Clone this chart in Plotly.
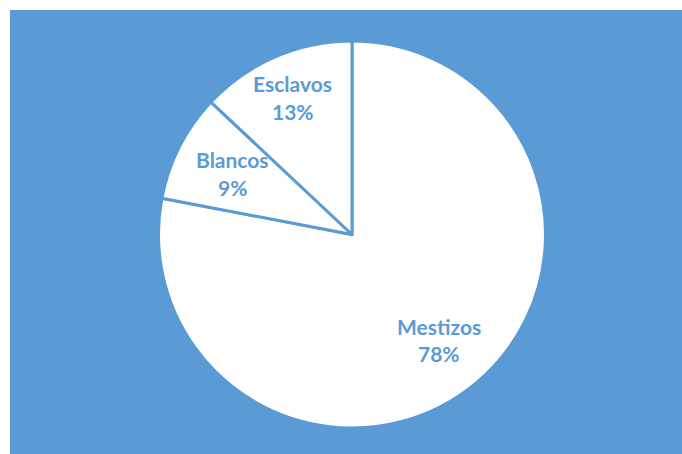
import math
import plotly.graph_objects as go

# Population composition
labels = ["Mestizos", "Blancos", "Esclavos"]
values = [78, 9, 13]

BLUE = "#5B9BD5"
W, H = 682, 454
M_L, M_T = 10, 10

# Pie geometry (pixels, within the page)
cx, cy, r = 352, 234.5, 193.5
plot_w, plot_h = W - M_L, H - M_T
dom_x = [(cx - r - M_L) / plot_w, (cx + r - M_L) / plot_w]
dom_y = [(H - cy - r) / plot_h, (H - cy + r) / plot_h]

fig = go.Figure(
    go.Pie(
        labels=labels,
        values=values,
        sort=False,
        direction="clockwise",
        rotation=0,
        textinfo="none",
        hoverinfo="label+percent",
        marker=dict(colors=["white"] * len(values), line=dict(color=BLUE, width=3)),
        showlegend=False,
        domain=dict(x=dom_x, y=dom_y),
    )
)

# Labels placed at each slice's mid-angle
total = sum(values)
radial = {"Mestizos": 0.71, "Blancos": 0.70, "Esclavos": 0.78}
annotations = []
cum = 0
for lab, v in zip(labels, values):
    mid = (cum + v / 2) / total * 2 * math.pi
    cum += v
    rr = 192 * radial[lab]
    px = cx + rr * math.sin(mid)
    py = cy - rr * math.cos(mid)
    pct = f"{round(v / total * 100)}%"
    for txt, dy in ((lab, -13.5), (pct, 14)):
        annotations.append(
            dict(
                x=(px - M_L) / plot_w,
                y=(H - (py + dy)) / plot_h,
                xref="paper",
                yref="paper",
                text=f"<b>{txt}</b>",
                showarrow=False,
                xanchor="center",
                yanchor="middle",
                font=dict(family="Lato", size=21, color=BLUE),
            )
        )

fig.update_layout(
    width=W,
    height=H,
    margin=dict(l=M_L, t=M_T, r=0, b=0),
    paper_bgcolor="white",
    plot_bgcolor="white",
    shapes=[
        dict(
            type="rect",
            xref="paper",
            yref="paper",
            x0=0,
            x1=1,
            y0=0,
            y1=1,
            fillcolor=BLUE,
            line=dict(width=0),
            layer="below",
        )
    ],
    annotations=annotations,
)

fig.write_html("out.html")
